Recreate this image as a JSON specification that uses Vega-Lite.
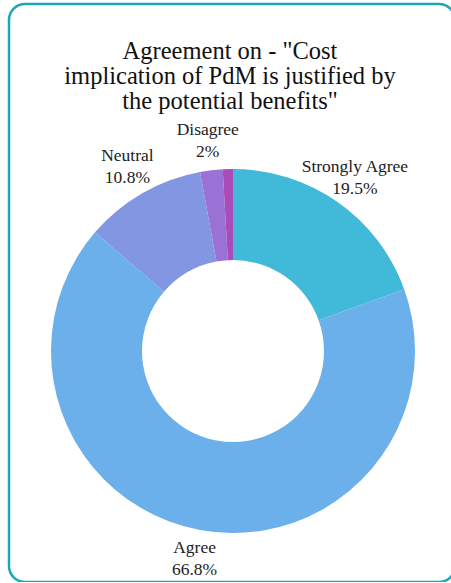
{
  "$schema": "https://vega.github.io/schema/vega-lite/v6.json",
  "width": 446,
  "height": 578,
  "autosize": {"type": "none"},
  "padding": {"left": 9, "top": 4, "right": 0, "bottom": 0},
  "background": "white",
  "view": {"stroke": "#1aa8b8", "strokeWidth": 2.5, "cornerRadius": 16, "fill": "white"},
  "title": {
    "text": ["Agreement on - \"Cost", "implication of PdM is justified by", "the potential benefits\""],
    "font": "Liberation Serif",
    "fontSize": 24.5,
    "fontWeight": "normal",
    "color": "#111111",
    "lineHeight": 25,
    "anchor": "middle",
    "frame": "group",
    "baseline": "top",
    "dx": -2,
    "offset": -110
  },
  "data": {
    "values": [
      {"answer": "Strongly Agree", "share": 0.195, "rank": 1},
      {"answer": "Agree", "share": 0.668, "rank": 2},
      {"answer": "Neutral", "share": 0.108, "rank": 3},
      {"answer": "Disagree", "share": 0.02, "rank": 4},
      {"answer": "Strongly Disagree", "share": 0.009, "rank": 5}
    ]
  },
  "encoding": {
    "theta": {"field": "share", "type": "quantitative", "stack": true},
    "order": {"field": "rank", "type": "quantitative"}
  },
  "layer": [
    {
      "mark": {
        "type": "arc",
        "innerRadius": 91,
        "outerRadius": 182,
        "x": {"expr": "width/2 + 1"},
        "y": {"expr": "height/2 + 58"}
      },
      "encoding": {
        "color": {
          "field": "answer",
          "type": "nominal",
          "scale": {
            "domain": ["Strongly Agree", "Agree", "Neutral", "Disagree", "Strongly Disagree"],
            "range": ["#41b9d8", "#6bb0ea", "#8296e2", "#9a72d6", "#a94bb9"]
          },
          "legend": null
        }
      }
    },
    {
      "transform": [{"filter": "datum.rank < 5"}],
      "mark": {
        "type": "text",
        "radius": 212,
        "dy": -11,
        "font": "Liberation Serif",
        "fontSize": 17.5,
        "color": "#222222",
        "align": "center",
        "baseline": "middle",
        "x": {"expr": "width/2 + 1"},
        "y": {"expr": "height/2 + 58"}
      },
      "encoding": {"text": {"field": "answer", "type": "nominal"}}
    },
    {
      "transform": [{"filter": "datum.rank < 5"}],
      "mark": {
        "type": "text",
        "radius": 212,
        "dy": 11,
        "font": "Liberation Serif",
        "fontSize": 17.5,
        "color": "#222222",
        "align": "center",
        "baseline": "middle",
        "x": {"expr": "width/2 + 1"},
        "y": {"expr": "height/2 + 58"}
      },
      "encoding": {"text": {"field": "share", "type": "quantitative", "format": ".1~%"}}
    }
  ]
}
